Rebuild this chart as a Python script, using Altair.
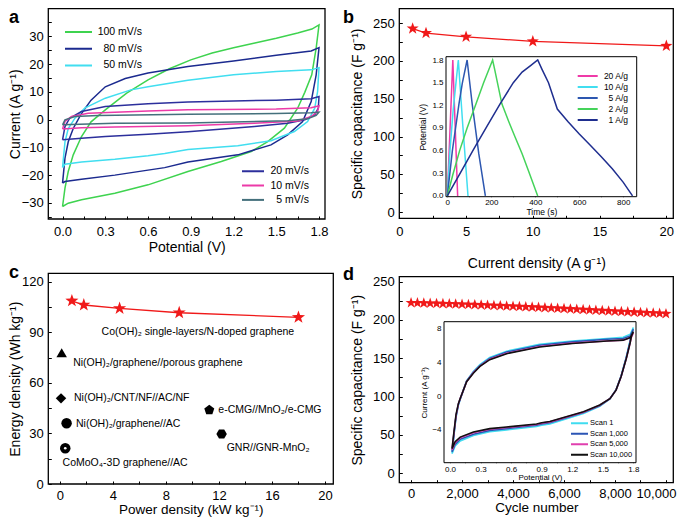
import altair as alt
import pandas as pd

FONT = "Liberation Sans"
W, H = 669, 511
SUP = "\u207b\u00b9"
RED = "#f01919"

# ---------------- panel a : CV curves ----------------
A_NAMES = ["100 mV/s", "80 mV/s", "50 mV/s", "20 mV/s", "10 mV/s", "5 mV/s"]
A_COLORS = ["#3ed34f", "#1b2a8f", "#41def0", "#2c2f9c", "#ec3aa8", "#44707c"]

A100_UP_V = [0, 0.017, 0.04, 0.075, 0.133, 0.2, 0.3, 0.45, 0.6, 0.75, 0.9, 1.05, 1.2, 1.35, 1.5, 1.65, 1.75, 1.8]
A100_UP_I = [-31.3, -24.7, -18.7, -12.7, -6.1, -0.8, 3.5, 9.5, 14.3, 18.3, 21.5, 24.0, 25.9, 27.6, 29.3, 31.2, 32.6, 34.1]
A100_DN_V = [1.8, 1.78, 1.749, 1.7, 1.65, 1.557, 1.44, 1.324, 1.114, 0.88, 0.6, 0.367, 0.133, 0.04, 0]
A100_DN_I = [34.1, 25.7, 16.1, 9.8, 4.1, -3.1, -7.9, -11.5, -15.1, -18.7, -23.5, -26.5, -28.9, -30.1, -31.3]

A80_UP_V = [0, 0.017, 0.04, 0.075, 0.133, 0.2, 0.3, 0.44, 0.6, 0.88, 1.2, 1.5, 1.745, 1.8]
A80_UP_I = [-22.9, -13.9, -8.0, -3.2, 2.2, 7.0, 11.8, 14.8, 16.8, 19.1, 21.1, 23.2, 24.7, 25.9]
A80_DN_V = [1.8, 1.78, 1.745, 1.685, 1.58, 1.463, 1.23, 0.88, 0.717, 0.6, 0.367, 0.133, 0.017, 0]
A80_DN_I = [25.9, 16.1, 6.5, -0.7, -5.5, -9.1, -12.7, -15.3, -17.3, -18.2, -20.0, -21.5, -22.3, -22.9]

A50_UP_V = [0, 0.017, 0.04, 0.087, 0.156, 0.3, 0.48, 0.6, 0.88, 1.2, 1.5, 1.745, 1.8]
A50_UP_I = [-17.3, -8.0, -3.2, 0.5, 4.1, 7.7, 10.7, 11.8, 14.2, 16.1, 17.3, 17.9, 18.7]
A50_DN_V = [1.8, 1.79, 1.77, 1.72, 1.627, 1.463, 1.23, 0.88, 0.717, 0.6, 0.367, 0.133, 0.017, 0]
A50_DN_I = [18.7, 10.1, 4.1, -0.7, -4.3, -7.6, -9.4, -10.8, -12.2, -13.0, -14.3, -15.3, -16.1, -17.3]

A20_UP_V = [0, 0.017, 0.05, 0.133, 0.3, 0.6, 0.88, 1.2, 1.5, 1.745, 1.8]
A20_UP_I = [-7.3, -2.5, 0.5, 2.9, 4.7, 5.7, 6.3, 6.7, 7.0, 7.5, 8.3]
A20_DN_V = [1.8, 1.795, 1.77, 1.7, 1.58, 1.347, 0.88, 0.6, 0.3, 0.133, 0]
A20_DN_I = [8.3, 4.1, 1.7, -0.1, -1.3, -2.5, -4.4, -5.3, -6.1, -6.7, -7.3]

A10_UP_V = [0, 0.017, 0.063, 0.18, 0.6, 0.88, 1.5, 1.745, 1.8]
A10_UP_I = [-3.4, -0.7, 1.1, 2.3, 3.1, 3.5, 3.8, 4.3, 5.0]
A10_DN_V = [1.8, 1.79, 1.745, 1.65, 1.347, 0.88, 0.367, 0.133, 0]
A10_DN_I = [5.0, 2.9, 1.1, -0.5, -1.3, -2.2, -2.7, -2.9, -3.4]

A5_UP_V = [0, 0.017, 0.087, 0.25, 0.88, 1.5, 1.745, 1.8]
A5_UP_I = [-1.9, -0.1, 1.1, 1.5, 1.9, 2.2, 2.5, 2.7]
A5_DN_V = [1.8, 1.78, 1.72, 1.58, 0.88, 0.367, 0]
A5_DN_I = [2.7, 1.5, 0.3, -0.4, -1.2, -1.3, -1.9]

A_X_TICKS = [0, 0.15, 0.3, 0.45, 0.6, 0.75, 0.9, 1.05, 1.2, 1.35, 1.5, 1.65, 1.8]
A_Y_TICKS = [-35, -30, -25, -20, -15, -10, -5, 0, 5, 10, 15, 20, 25, 30, 35]

# ---------------- panel b : rate capability + GCD inset ----------------
B_J = [1, 2, 5, 10, 20]
B_C = [243, 237, 232, 226, 220]
B_X_TICKS = [0, 2.5, 5, 7.5, 10, 12.5, 15, 17.5, 20]
B_Y_TICKS = [0, 25, 50, 75, 100, 125, 150, 175, 200, 225, 250]

G_NAMES = ["20 A/g", "10 A/g", "5 A/g", "2 A/g", "1 A/g"]
G_COLORS = ["#ef3aa8", "#41def0", "#2d57b0", "#45d35a", "#1f2e8f"]
G20_T = [0, 12, 25, 36, 47]
G20_V = [0, 0.86, 1.8, 0.9, 0]
G10_T = [0, 12, 27, 50, 70, 94]
G10_V = [0, 0.6, 1.15, 1.8, 0.95, 0]
G5_T = [0, 23, 53, 68, 90, 113, 143, 173]
G5_V = [0, 0.6, 1.22, 1.49, 1.8, 1.22, 0.56, 0]
G2_T = [0, 25, 56, 90, 128, 165, 206, 215, 248, 280, 308, 340, 368, 411]
G2_V = [0, 0.28, 0.6, 0.9, 1.2, 1.5, 1.8, 1.68, 1.22, 0.98, 0.78, 0.56, 0.34, 0]
G1_T = [0, 60, 120, 180, 240, 300, 340, 380, 411, 430, 460, 500, 550, 600, 650, 700, 750, 800, 842]
G1_V = [0, 0.31, 0.62, 0.92, 1.22, 1.5, 1.64, 1.73, 1.8, 1.68, 1.5, 1.15, 0.98, 0.82, 0.67, 0.52, 0.36, 0.18, 0]
BI_X_TICKS = [0, 100, 200, 300, 400, 500, 600, 700, 800]
BI_Y_TICKS = [0, 0.15, 0.3, 0.45, 0.6, 0.75, 0.9, 1.05, 1.2, 1.35, 1.5, 1.65, 1.8]

# ---------------- panel c : Ragone plot ----------------
C_P = [0.9, 1.8, 4.5, 9, 18]
C_E = [108.7, 106.2, 104.2, 101.6, 98.9]
O_NAMES = ["Ni(OH)\u2082/graphene//porous graphene", "Ni(OH)\u2082/CNT/NF//AC/NF",
           "Ni(OH)\u2082/graphene//AC", "CoMoO\u2084-3D graphene//AC",
           "e-CMG//MnO\u2082/e-CMG", "GNR//GNR-MnO\u2082"]
O_P = [0.13, 0.08, 0.5, 0.4, 11.27, 12.2]
O_E = [77.9, 50.8, 36.0, 21.2, 43.9, 29.7]
PENT = "M0,-1L0.9511,-0.309L0.5878,0.809L-0.5878,0.809L-0.9511,-0.309Z"
HEX = "M1,0L0.5,0.866L-0.5,0.866L-1,0L-0.5,-0.866L0.5,-0.866Z"
O_SHAPES = ["triangle-up", "diamond", "circle", "circle", PENT, HEX]
L_TEXT = ["Co(OH)\u2082 single-layers/N-doped graphene"] + O_NAMES
L_P = [3.14, 1.0, 1.06, 1.21, 0.2, 11.95, 12.58]
L_E = [90.4, 72.0, 50.8, 35.4, 12.7, 43.9, 21.5]
C_X_TICKS = [0, 2, 4, 6, 8, 10, 12, 14, 16, 18, 20]
C_Y_TICKS = [0, 15, 30, 45, 60, 75, 90, 105, 120]

# ---------------- panel d : cycling + CV inset ----------------
D_CYC = [0, 250, 500, 750, 1000, 1250, 1500, 1750, 2000, 2250, 2500, 2750, 3000, 3250,
         3500, 3750, 4000, 4250, 4500, 4750, 5000, 5250, 5500, 5750, 6000, 6250, 6500,
         6750, 7000, 7250, 7500, 7750, 8000, 8250, 8500, 8750, 9000, 9250, 9500, 9750, 10000]
D_CAP = [222.5, 222.3, 222.0, 221.8, 221.6, 221.3, 221.0, 220.8, 220.5, 220.2, 219.9,
         219.6, 219.2, 218.9, 218.6, 218.2, 217.9, 217.5, 217.1, 216.8, 216.4, 216.0,
         215.6, 215.2, 214.8, 214.4, 214.0, 213.5, 213.1, 212.7, 212.3, 211.8, 211.4,
         211.0, 210.6, 210.2, 209.8, 209.4, 209.0, 208.6, 208.2]
D_X_TICKS = [0, 1000, 2000, 3000, 4000, 5000, 6000, 7000, 8000, 9000, 10000]
D_Y_TICKS = [0, 25, 50, 75, 100, 125, 150, 175, 200, 225, 250]

S_NAMES = ["Scan 1", "Scan 1,000", "Scan 5,000", "Scan 10,000"]
S_COLORS = ["#3fdcf0", "#2b55b5", "#e03fae", "#111111"]
S_UP_V = [0.02, 0.039, 0.059, 0.082, 0.1, 0.163, 0.229, 0.294, 0.39, 0.556, 0.88, 1.2, 1.54, 1.7, 1.77, 1.8]
S_DN_V = [1.8, 1.78, 1.767, 1.73, 1.68, 1.63, 1.57, 1.47, 1.31, 0.98, 0.9, 0.85, 0.556, 0.39, 0.23, 0.1, 0.05, 0.02]
S1_UP_I = [-6.8, -4.6, -2.5, -1.1, -0.4, 1.8, 2.9, 3.7, 4.55, 5.3, 6.1, 6.5, 6.8, 6.95, 7.3, 8.1]
S1_DN_I = [8.1, 7.4, 6.5, 4.6, 2.4, 0.75, -0.35, -1.2, -2.05, -3.3, -3.45, -3.6, -4.0, -4.2, -4.65, -5.3, -5.9, -6.8]
S1K_UP_I = [-6.6, -4.5, -2.4, -1.0, -0.35, 1.75, 2.8, 3.6, 4.45, 5.2, 6.0, 6.4, 6.7, 6.8, 7.1, 7.9]
S1K_DN_I = [7.9, 7.2, 6.4, 4.5, 2.35, 0.72, -0.32, -1.15, -1.95, -3.15, -3.3, -3.45, -3.85, -4.05, -4.5, -5.1, -5.7, -6.6]
S5K_UP_I = [-6.35, -4.3, -2.3, -0.95, -0.3, 1.7, 2.75, 3.55, 4.35, 5.05, 5.85, 6.25, 6.5, 6.6, 6.9, 7.45]
S5K_DN_I = [7.45, 6.9, 6.2, 4.4, 2.3, 0.7, -0.3, -1.08, -1.9, -3.05, -3.2, -3.35, -3.72, -3.92, -4.33, -4.93, -5.5, -6.35]
S10K_UP_I = [-6.2, -4.2, -2.2, -0.9, -0.3, 1.7, 2.7, 3.5, 4.3, 5.0, 5.8, 6.2, 6.5, 6.6, 6.9, 7.6]
S10K_DN_I = [7.6, 7.0, 6.2, 4.4, 2.3, 0.7, -0.3, -1.06, -1.85, -3.0, -3.15, -3.3, -3.65, -3.85, -4.25, -4.85, -5.4, -6.2]
DI_X_TICKS = [0, 0.15, 0.3, 0.45, 0.6, 0.75, 0.9, 1.05, 1.2, 1.35, 1.5, 1.65, 1.8]
DI_Y_TICKS = [-6, -4, -2, 0, 2, 4, 6, 8]

STAR = ("M0,-1L0.2351,-0.3236L0.9511,-0.309L0.3804,0.1236L0.5878,0.809L0,0.4"
        "L-0.5878,0.809L-0.3804,0.1236L-0.9511,-0.309L-0.2351,-0.3236Z")

# ---------------- geometry: domain and pixel range of each plot box ----------------
GEO = {
    "a": ([-0.1, 1.842], [40.3, 317.0], [-35.8, 40.0], [211.0, 0.5]),
    "b": ([0, 20.52], [391.3, 665.3], [-8.3, 269.5], [210.3, 0.5]),
    "bi": ([-6, 861], [438.0, 628.7], [-0.01, 1.844], [188.7, 48.7]),
    "c": ([-0.88, 20.63], [40.3, 325.3], [0, 125], [476.0, 265.3]),
    "d": ([-461, 10287], [391.3, 665.3], [-12.3, 256.5], [474.7, 268.7]),
    "di": ([-0.059, 1.826], [436.0, 628.0], [-7.87, 8.78], [454.7, 313.7]),
}


def xsc(p):
    return alt.Scale(domain=GEO[p][0], range=GEO[p][1], nice=False, zero=False)


def ysc(p):
    return alt.Scale(domain=GEO[p][2], range=GEO[p][3], nice=False, zero=False)


def X(field, p):
    return alt.X(field, type="quantitative", scale=xsc(p), axis=None)


def Y(field, p):
    return alt.Y(field, type="quantitative", scale=ysc(p), axis=None)


def axis(orient, p, values, expr, title, tick, fs, pad, tfs, tpad, **kw):
    xd, xr, yd, yr = GEO[p]
    if orient == "bottom":
        off = (yr[0] - tick) - H
    else:
        off = -(xr[0] + tick)
    return alt.Axis(orient=orient, offset=off, values=values, labelExpr=expr, title=title,
                    domain=False, grid=False, ticks=True, tickSize=tick, tickColor="black",
                    tickWidth=1, labelFont=FONT, labelFontSize=fs, labelColor="black",
                    labelPadding=pad, labelOverlap=False, labelFlush=False,
                    titleFont=FONT, titleFontSize=tfs, titleFontWeight="normal",
                    titleColor="black", titlePadding=tpad, **kw)


def frame(p, xaxis, yaxis, fo, sw):
    xd, _, yd, _ = GEO[p]
    df = pd.DataFrame({"x0": [xd[0]], "x1": [xd[1]], "y0": [yd[0]], "y1": [yd[1]]})
    return alt.Chart(df).mark_rect(fill="white", fillOpacity=fo, stroke="black", strokeWidth=sw).encode(
        x=alt.X("x0:Q", scale=xsc(p), axis=xaxis), x2=alt.X2("x1"),
        y=alt.Y("y0:Q", scale=ysc(p), axis=yaxis), y2=alt.Y2("y1"))


def leg(x, y, size, fs, off, ch, rp, align):
    return alt.Legend(orient="none", legendX=x, legendY=y, title=None, symbolType="stroke",
                      symbolSize=size, symbolStrokeWidth=2, labelFont=FONT, labelFontSize=fs,
                      labelColor="black", labelOffset=off, clipHeight=ch, rowPadding=rp,
                      padding=0, labelLimit=300, labelAlign=align)


def path_df(name, xs, ys):
    return pd.DataFrame({"s": name, "k": list(range(len(xs))), "x": xs, "y": ys})


def letter(t, x, y, base):
    return alt.Chart(alt.Data(values=[{}])).mark_text(
        text=t, font=FONT, fontSize=18, fontWeight="bold", align="left",
        baseline=base, color="black").encode(x=alt.value(x), y=alt.value(y))


LAB1 = "round(datum.value*100) % 30 == 0 ? format(datum.value, '.1f') : ''"

# ---- panel a layers ----
A_DF = pd.concat([
    path_df(A_NAMES[0], A100_UP_V + A100_DN_V, A100_UP_I + A100_DN_I),
    path_df(A_NAMES[1], A80_UP_V + A80_DN_V, A80_UP_I + A80_DN_I),
    path_df(A_NAMES[2], A50_UP_V + A50_DN_V, A50_UP_I + A50_DN_I),
    path_df(A_NAMES[3], A20_UP_V + A20_DN_V, A20_UP_I + A20_DN_I),
    path_df(A_NAMES[4], A10_UP_V + A10_DN_V, A10_UP_I + A10_DN_I),
    path_df(A_NAMES[5], A5_UP_V + A5_DN_V, A5_UP_I + A5_DN_I),
])

a_frame = frame("a",
                axis("bottom", "a", A_X_TICKS, LAB1, "Potential (V)", 3, 13, 6, 14, 2),
                axis("left", "a", A_Y_TICKS, "datum.value % 10 == 0 ? format(datum.value, 'd') : ''",
                     "Current (A g" + SUP + ")", 3, 13, 5, 14, 0, titleX=-28.5), 0, 1.3)
a_fast = alt.Chart(A_DF[A_DF.s.isin(A_NAMES[:3])]).mark_line(strokeWidth=1.5).encode(
    x=X("x", "a"), y=Y("y", "a"), order="k:Q",
    color=alt.Color("s:N", scale=alt.Scale(domain=A_NAMES[:3], range=A_COLORS[:3]),
                    legend=leg(56, 18, 729, 10.5, 49, 12, 4.7, "right")))
a_slow = alt.Chart(A_DF[A_DF.s.isin(A_NAMES[3:])]).mark_line(strokeWidth=1.5).encode(
    x=X("x", "a"), y=Y("y", "a"), order="k:Q",
    color=alt.Color("s:N", scale=alt.Scale(domain=A_NAMES[3:], range=A_COLORS[3:]),
                    legend=leg(233, 157.3, 484, 10.5, 44, 12, 2.3, "right")))

# ---- panel b layers ----
B_DF = pd.DataFrame({"x": B_J, "y": B_C})
b_frame = frame("b",
                axis("bottom", "b", B_X_TICKS, "datum.value % 5 == 0 ? format(datum.value, 'd') : ''",
                     "Current density (A g" + SUP + ")", 3, 13, 7, 14, 18),
                axis("left", "b", B_Y_TICKS, "datum.value % 50 == 0 ? format(datum.value, 'd') : ''",
                     "Specific capacitance (F g" + SUP + ")", 3, 13, 5, 14, 8), 0, 1.3)
b_line = alt.Chart(B_DF).mark_line(color=RED, strokeWidth=1.3).encode(x=X("x", "b"), y=Y("y", "b"))
b_pts = alt.Chart(B_DF).mark_point(shape=STAR, filled=True, color=RED, size=160, opacity=1).encode(
    x=X("x", "b"), y=Y("y", "b"))

G_DF = pd.concat([
    path_df(G_NAMES[0], G20_T, G20_V), path_df(G_NAMES[1], G10_T, G10_V),
    path_df(G_NAMES[2], G5_T, G5_V), path_df(G_NAMES[3], G2_T, G2_V),
    path_df(G_NAMES[4], G1_T, G1_V),
])
bi_frame = frame("bi",
                 axis("bottom", "bi", BI_X_TICKS, "datum.value % 200 == 0 ? format(datum.value, 'd') : ''",
                      "Time (s)", 2.5, 8, 1.5, 8.5, 1),
                 axis("left", "bi", BI_Y_TICKS, LAB1, "Potential (V)", 2.5, 8, 3, 8.5, 4), 1, 1)
bi_lines = alt.Chart(G_DF).mark_line(strokeWidth=1.5).encode(
    x=X("x", "bi"), y=Y("y", "bi"), order="k:Q",
    color=alt.Color("s:N", scale=alt.Scale(domain=G_NAMES, range=G_COLORS),
                    legend=leg(568.7, 63.5, 400, 8.5, 29.3, 9, 2, "right")))

# ---- panel c layers ----
C_DF = pd.DataFrame({"x": C_P, "y": C_E})
O_DF = pd.DataFrame({"n": O_NAMES, "x": O_P, "y": O_E})
L_DF = pd.DataFrame({"t": L_TEXT, "x": L_P, "y": L_E})
c_frame = frame("c",
                axis("bottom", "c", C_X_TICKS, "datum.value % 4 == 0 ? format(datum.value, 'd') : ''",
                     "Power density (kW kg" + SUP + ")", 3, 13, 5, 13.5, 0),
                axis("left", "c", C_Y_TICKS, "datum.value % 30 == 0 ? format(datum.value, 'd') : ''",
                     "Energy density (Wh kg" + SUP + ")", 3, 13, 5, 14, 1, titleX=-28.5), 0, 1.3)
c_line = alt.Chart(C_DF).mark_line(color=RED, strokeWidth=1.3).encode(x=X("x", "c"), y=Y("y", "c"))
c_pts = alt.Chart(C_DF).mark_point(shape=STAR, filled=True, color=RED, size=190, opacity=1).encode(
    x=X("x", "c"), y=Y("y", "c"))
c_oth = alt.Chart(O_DF).mark_point(filled=True, color="black", size=110, opacity=1).encode(
    x=X("x", "c"), y=Y("y", "c"),
    shape=alt.Shape("n:N", scale=alt.Scale(domain=O_NAMES, range=O_SHAPES), legend=None))
c_dot = alt.Chart(O_DF).transform_filter(alt.datum.n == O_NAMES[3]).mark_point(
    filled=True, color="white", size=7, opacity=1, shape="circle", strokeWidth=0).encode(
    x=X("x", "c"), y=Y("y", "c"))
c_txt = alt.Chart(L_DF).mark_text(font=FONT, fontSize=10.5, align="left", baseline="middle",
                                  color="black").encode(x=X("x", "c"), y=Y("y", "c"), text="t:N")

# ---- panel d layers ----
D_DF = pd.DataFrame({"x": D_CYC, "y": D_CAP})
d_frame = frame("d",
                axis("bottom", "d", D_X_TICKS, "datum.value % 2000 == 0 ? format(datum.value, ',d') : ''",
                     "Cycle number", 3, 13, 5, 13.5, 0,
                     labelOffset={"condition": {"test": "datum.value == 10000", "value": -10}, "value": 0}),
                axis("left", "d", D_Y_TICKS, "datum.value % 50 == 0 ? format(datum.value, 'd') : ''",
                     "Specific capacitance (F g" + SUP + ")", 3, 13, 5, 14, 8), 0, 1.3)
d_pts = alt.Chart(D_DF).mark_point(shape=STAR, filled=True, color=RED, size=135, opacity=1).encode(
    x=X("x", "d"), y=Y("y", "d"))

S_DF = pd.concat([
    path_df(S_NAMES[0], S_UP_V + S_DN_V, S1_UP_I + S1_DN_I),
    path_df(S_NAMES[1], S_UP_V + S_DN_V, S1K_UP_I + S1K_DN_I),
    path_df(S_NAMES[2], S_UP_V + S_DN_V, S5K_UP_I + S5K_DN_I),
    path_df(S_NAMES[3], S_UP_V + S_DN_V, S10K_UP_I + S10K_DN_I),
])
di_frame = frame("di",
                 axis("bottom", "di", DI_X_TICKS, LAB1, "Potential (V)", 2.5, 8, 3, 8, 0),
                 axis("left", "di", DI_Y_TICKS, "datum.value % 4 == 0 ? format(datum.value, 'd') : ''",
                      "Current (A g" + SUP + ")", 2.5, 8, 3, 8, 3), 1, 1)
di_lines = alt.Chart(S_DF).mark_line(strokeWidth=1.6).encode(
    x=X("x", "di"), y=Y("y", "di"), order="k:Q",
    color=alt.Color("s:N", scale=alt.Scale(domain=S_NAMES, range=S_COLORS),
                    legend=leg(562, 411.3, 289, 7.5, 1, 8, 2.5, "left")))

chart = alt.layer(
    a_frame, a_fast, a_slow,
    b_frame, b_line, b_pts, bi_frame, bi_lines,
    c_frame, c_line, c_pts, c_oth, c_dot, c_txt,
    d_frame, d_pts, di_frame, di_lines,
    letter("a", 1, 0.5, "top"), letter("b", 335, 0.5, "top"),
    letter("c", 1, 270, "alphabetic"), letter("d", 335, 272, "alphabetic"),
).resolve_scale(
    x="independent", y="independent", color="independent", shape="independent"
).properties(
    width=W, height=H, padding=0, autosize=alt.AutoSizeParams(type="none")
).configure_view(strokeWidth=0)

chart.save("out.html", embed_options={"renderer": "svg", "actions": False})
